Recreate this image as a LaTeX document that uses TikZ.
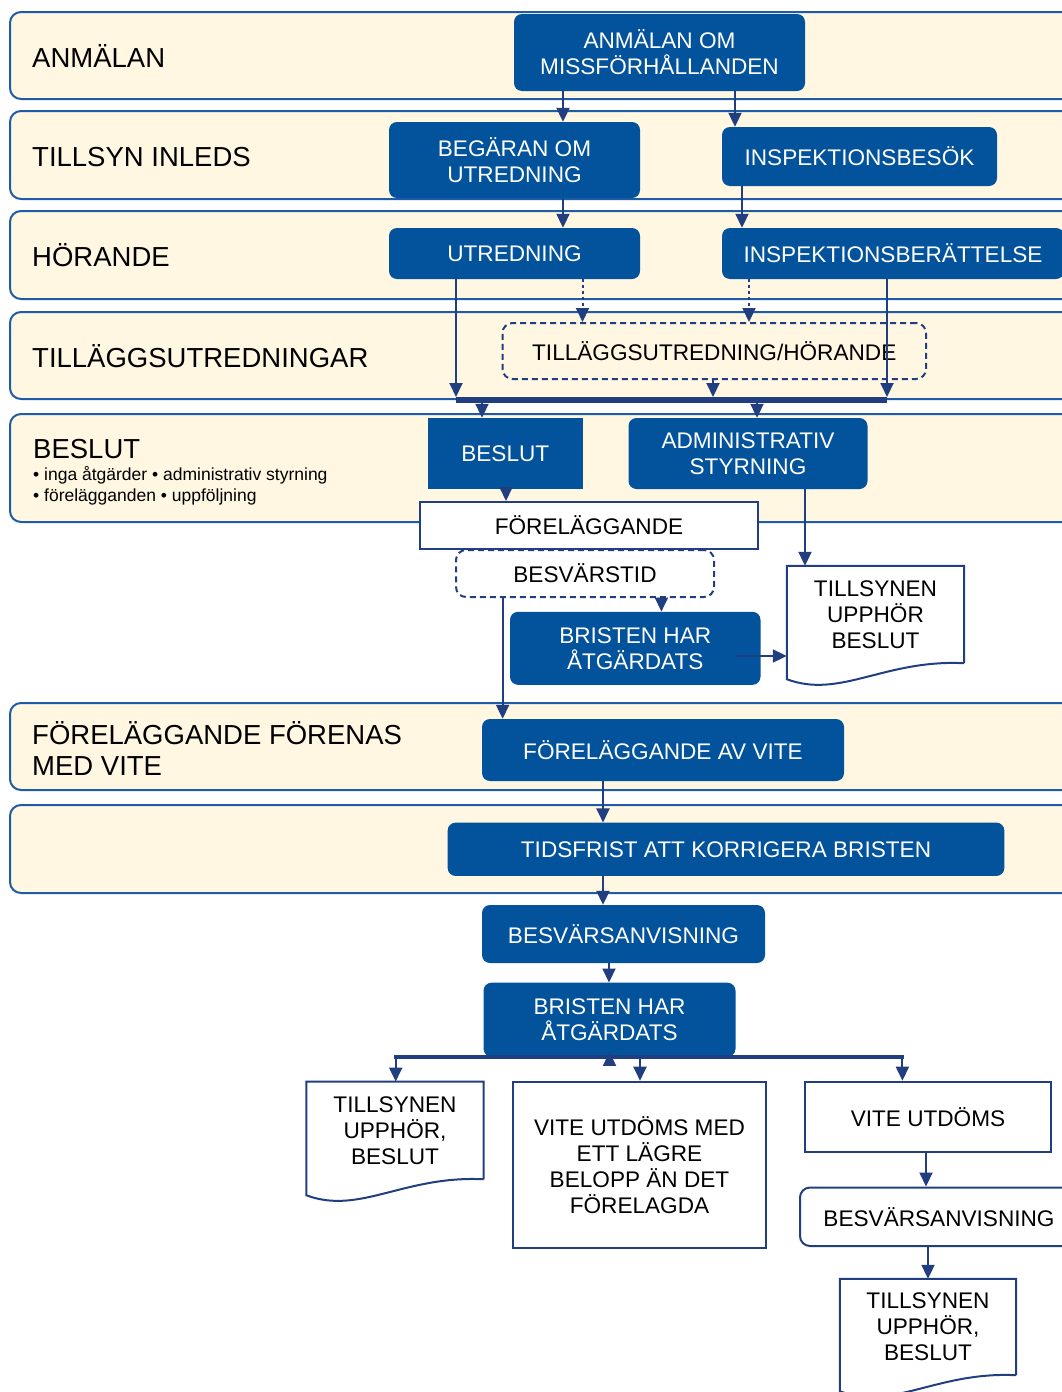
\documentclass[tikz,border=0pt]{standalone}
\usepackage{fontspec}
\setmainfont{Liberation Sans}
\usetikzlibrary{arrows.meta}
\usetikzlibrary{calc}
\usetikzlibrary{math}

\definecolor{LaneFill}{HTML}{FFF7E1}
\definecolor{LaneLine}{HTML}{1E5BA8}
\definecolor{BoxBlue}{HTML}{02529C}
\definecolor{FlowNavy}{HTML}{213F80}

\newcommand{\LaneFont}{\fontsize{27.5}{31}\selectfont}
\newcommand{\BoxFont}{\fontsize{22.6}{26}\selectfont}
\newcommand{\ListFont}{\fontsize{17.5}{21}\selectfont}

\tikzset{
    lane/.style={draw=LaneLine, line width=2pt, fill=LaneFill, rounded corners=11pt},
    lanetitle/.style={anchor=base west, align=left, inner sep=0pt, font=\LaneFont},
    bluebox/.style={fill=BoxBlue, text=white, rounded corners=8pt, align=center, inner sep=0pt, font=\BoxFont},
    squarebox/.style={bluebox, rounded corners=0pt},
    whitebox/.style={draw=FlowNavy, line width=2pt, fill=white, align=center, inner sep=0pt, font=\BoxFont},
    roundwhite/.style={whitebox, rounded corners=10pt},
    dashbox/.style={draw=FlowNavy, line width=2pt, dash pattern=on 6pt off 4pt, rounded corners=10pt, align=center, inner sep=0pt, font=\BoxFont},
    docbox/.style={align=center, inner sep=0pt, font=\BoxFont},
    docline/.style={draw=FlowNavy, line width=2pt},
    flow/.style={FlowNavy, line width=2pt, -{Triangle[width=13pt,length=14pt]}},
    dotflow/.style={flow, dash pattern=on 3pt off 3pt},
    bar/.style={FlowNavy, line width=6pt},
}

% document symbol drawn round a node
\newcommand{\DrawDoc}[1]{%
    \draw[docline] (#1.south east) -- (#1.north east) -- (#1.north west) -- ($(#1.south west)+(0,16)$)
        .. controls ($(#1.south west)!0.3!(#1.south east)+(0,36)$) and ($(#1.south west)!0.55!(#1.south east)+(0,-4)$) .. (#1.south east);}

\begin{document}
\begin{tikzpicture}[x=1pt, y=-1pt]

% Position settings
\tikzmath{
    \LaneLeft = 10;
    \LaneRight = 1080;
}

\useasboundingbox (0,0) rectangle (1062,1392);
\clip (0,0) rectangle (1062,1392);

% Draws lanes
\draw[lane] (\LaneLeft,12) rectangle (\LaneRight,99);
\draw[lane] (\LaneLeft,111) rectangle (\LaneRight,199);
\draw[lane] (\LaneLeft,211) rectangle (\LaneRight,299);
\draw[lane] (\LaneLeft,312) rectangle (\LaneRight,399);
\draw[lane] (\LaneLeft,414) rectangle (\LaneRight,522);
\draw[lane] (\LaneLeft,703) rectangle (\LaneRight,790);
\draw[lane] (\LaneLeft,805) rectangle (\LaneRight,893);

% Lane titles
\node[lanetitle] (TitleAnmalan) at (32,67) {ANMÄLAN};
\node[lanetitle] (TitleTillsyn) at (32,166) {TILLSYN INLEDS};
\node[lanetitle] (TitleHorande) at (32,266) {HÖRANDE};
\node[lanetitle] (TitleTillagg) at (32,367) {TILLÄGGSUTREDNINGAR};
\node[lanetitle] (TitleBeslut) at (33,458) {BESLUT};
\node[anchor=west, align=left, inner sep=0pt, font=\ListFont] (TitleBeslutList) at (33,485.5)
    {• inga åtgärder • administrativ styrning\\• förelägganden • uppföljning};
\node[lanetitle, anchor=west] (TitleVite) at (32,748.5) {FÖRELÄGGANDE FÖRENAS\\MED VITE};

% Boxes
\node[bluebox, minimum width=291, minimum height=77] (Anmalan) at (659.5,52.5) {ANMÄLAN OM\\MISSFÖRHÅLLANDEN};
\node[bluebox, minimum width=251, minimum height=76] (BegaranOm) at (514.5,160) {BEGÄRAN OM\\UTREDNING};
\node[bluebox, minimum width=275, minimum height=59] (Inspektion) at (859.5,156.5) {INSPEKTIONSBESÖK};
\node[bluebox, minimum width=251, minimum height=51] (Utredning) at (514.5,253.5) {UTREDNING};
\node[bluebox, minimum width=342, minimum height=51] (InspBerattelse) at (893,253.5) {INSPEKTIONSBERÄTTELSE};
\node[dashbox, minimum width=423.5, minimum height=56] (Tillagg) at (714.25,351) {TILLÄGGSUTREDNING/HÖRANDE};
\node[squarebox, minimum width=154.5, minimum height=71] (Beslut) at (505.25,453.5) {BESLUT};
\node[bluebox, minimum width=239, minimum height=71] (AdminStyrning) at (748,453.5) {ADMINISTRATIV\\STYRNING};
\node[whitebox, minimum width=338, minimum height=47] (Forelaggande) at (589,525.5) {FÖRELÄGGANDE};
\node[dashbox, fill=white, minimum width=258, minimum height=47] (Besvarstid) at (585,573.5) {BESVÄRSTID};
\node[bluebox, minimum width=250.5, minimum height=73] (BristenEtt) at (635.25,648.3) {BRISTEN HAR\\ÅTGÄRDATS};
\node[docbox, minimum width=177, minimum height=97] (DocEtt) at (875.5,614.5) {TILLSYNEN\\UPPHÖR\\BESLUT};
\node[bluebox, minimum width=362, minimum height=62] (ForelVite) at (663,750) {FÖRELÄGGANDE AV VITE};
\node[bluebox, minimum width=556.7, minimum height=53.3] (Tidsfrist) at (726,849.3) {TIDSFRIST ATT KORRIGERA BRISTEN};
\node[bluebox, minimum width=283, minimum height=58] (BesvarBla) at (623.5,934) {BESVÄRSANVISNING};
\node[bluebox, minimum width=252, minimum height=74] (BristenTva) at (609.5,1019.7) {BRISTEN HAR\\ÅTGÄRDATS};
\node[docbox, minimum width=177, minimum height=97.3] (DocTva) at (395,1130.4) {TILLSYNEN\\UPPHÖR,\\BESLUT};
\node[whitebox, minimum width=253, minimum height=166] (ViteLagre) at (639.5,1164.7) {VITE UTDÖMS MED\\ETT LÄGRE\\BELOPP ÄN DET\\FÖRELAGDA};
\node[whitebox, minimum width=246, minimum height=70] (ViteUtdoms) at (928,1116.7) {VITE UTDÖMS};
\node[roundwhite, minimum width=278, minimum height=58.5] (BesvarVit) at (939,1216.75) {BESVÄRSANVISNING};
\node[docbox, minimum width=176, minimum height=96] (DocTre) at (928,1327) {TILLSYNEN\\UPPHÖR,\\BESLUT};

% Draws document symbols
\DrawDoc{DocEtt}
\DrawDoc{DocTva}
\DrawDoc{DocTre}

% Bars
\coordinate (BarLeft) at (456,400);
\coordinate (BarRight) at (887,400);
\coordinate (BarTvaLeft) at (395.7,1057);
\coordinate (BarTvaRight) at (902.4,1057);
\coordinate (ArrowStart) at (735,656);
\draw[bar] (BarLeft) -- (BarRight);
\draw[bar, line width=4pt, line cap=rect] (BarTvaLeft) -- (BarTvaRight);

% Connectors
\draw[flow] (Anmalan.south -| 563,0) -- (BegaranOm.north -| 563,0);
\draw[flow] (Anmalan.south -| 735,0) -- (Inspektion.north -| 735,0);
\draw[flow] (BegaranOm.south -| 563,0) -- (Utredning.north -| 563,0);
\draw[flow] (Inspektion.south -| 742,0) -- (InspBerattelse.north -| 742,0);
\draw[flow] (Utredning.south -| 456,0) -- ([yshift=3pt]BarLeft);
\draw[dotflow] (Utredning.south -| 582.5,0) -- (Tillagg.north -| 582.5,0);
\draw[dotflow] (InspBerattelse.south -| 749,0) -- (Tillagg.north -| 749,0);
\draw[flow] (InspBerattelse.south -| 887,0) -- ([yshift=3pt]BarRight);
\draw[flow] (Tillagg.south -| 713,0) -- ([yshift=3pt]BarRight -| 713,0);
\draw[flow] ([yshift=-3pt]BarLeft -| 482,0) -- (Beslut.north -| 482,0);
\draw[flow] ([yshift=-3pt]BarLeft -| 757,0) -- (AdminStyrning.north -| 757,0);
\draw[flow] (Beslut.south -| 506,0) -- (Forelaggande.north -| 506,0);
\draw[flow] (AdminStyrning.south -| 805,0) -- (DocEtt.north -| 805,0);
\draw[flow] (Besvarstid.south -| 661.4,0) -- (BristenEtt.north -| 661.4,0);
\draw[flow] (ArrowStart) -- (ArrowStart -| DocEtt.west);
\draw[flow] (Besvarstid.south -| 502.6,0) -- (ForelVite.north -| 502.6,0);
\draw[flow] (ForelVite.south -| 603,0) -- (Tidsfrist.north -| 603,0);
\draw[flow] (Tidsfrist.south -| 603,0) -- (BesvarBla.north -| 603,0);
\draw[flow] (BesvarBla.south -| 609,0) -- (BristenTva.north -| 609,0);
\draw[flow] ([yshift=-9pt]BristenTva.south) -- ([yshift=5pt]BristenTva.south);
\draw[flow] (BarTvaLeft) -- (BarTvaLeft |- DocTva.north);
\draw[flow] (BarTvaLeft -| 640,0) -- (ViteLagre.north -| 640,0);
\draw[flow] (BarTvaRight) -- (BarTvaRight |- ViteUtdoms.north);
\draw[flow] (ViteUtdoms.south -| 926,0) -- (BesvarVit.north -| 926,0);
\draw[flow] (BesvarVit.south -| 928,0) -- (DocTre.north);

\end{tikzpicture}
\end{document}
